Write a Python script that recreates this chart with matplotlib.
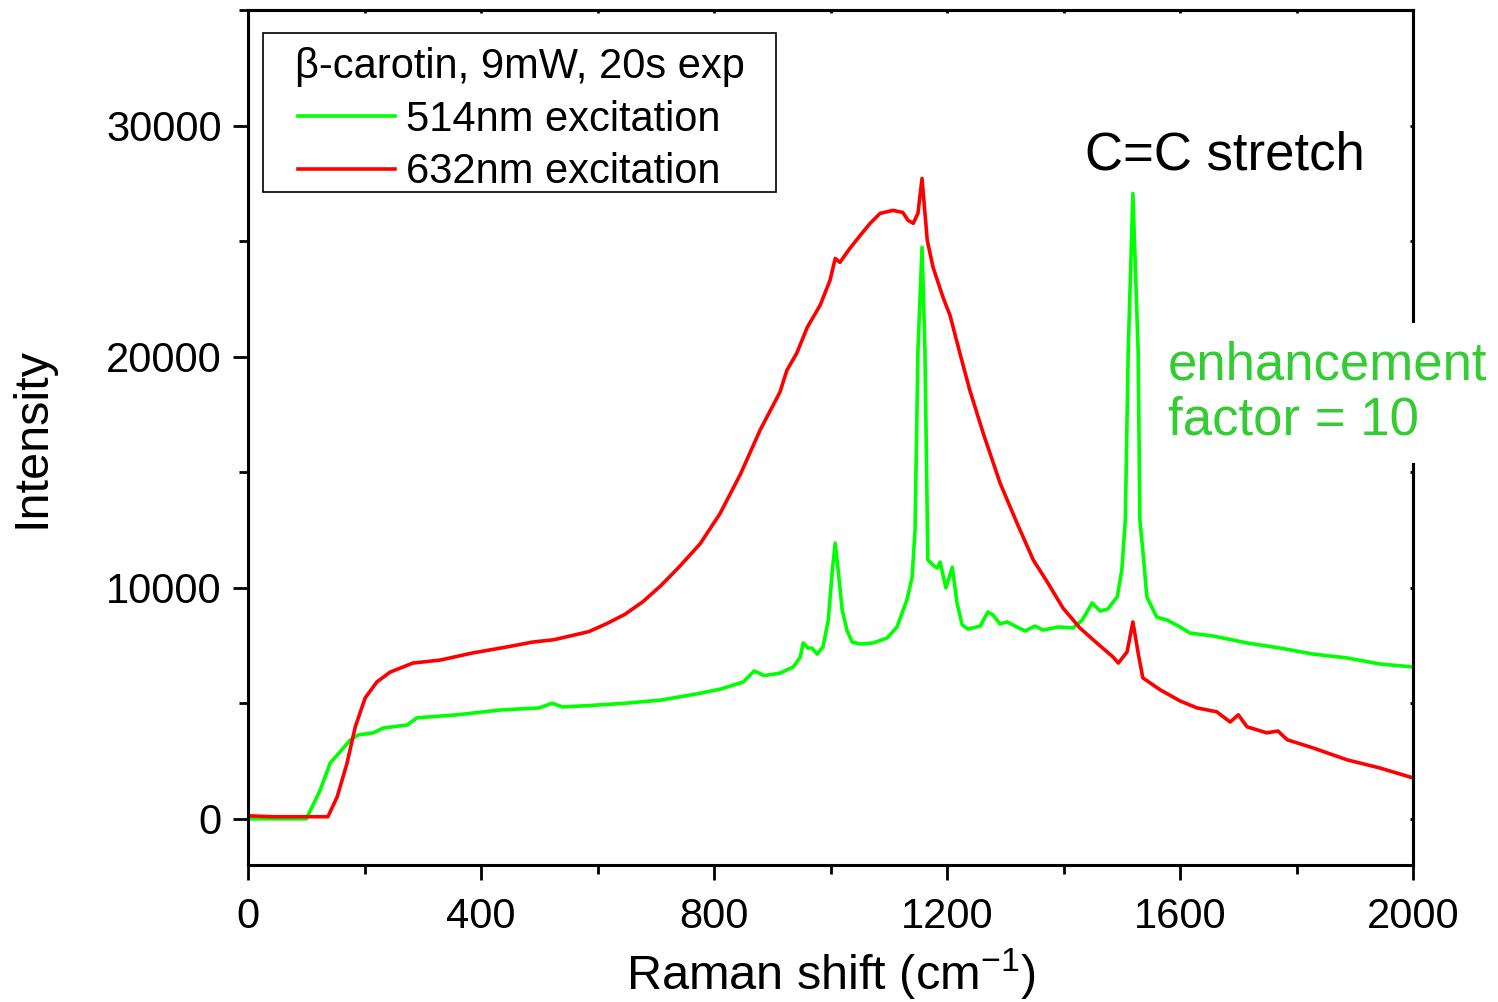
import matplotlib
matplotlib.use('Agg')
import matplotlib.pyplot as plt
from matplotlib.ticker import MultipleLocator
from matplotlib.patches import Rectangle
from matplotlib.legend_handler import HandlerLine2D

plt.rcParams['font.family'] = ['Liberation Sans', 'DejaVu Sans']
plt.rcParams['mathtext.fontset'] = 'custom'
plt.rcParams['mathtext.rm'] = 'Liberation Sans'
plt.rcParams['mathtext.it'] = 'Liberation Sans:italic'

# 514nm excitation (x10 enhancement)
shift_514 = [0, 50, 100, 124, 141, 158, 175, 189, 215, 232, 273, 290, 359, 433,
             500, 522, 540, 585, 647, 709, 769, 812, 850, 869, 886, 913, 936,
             948, 953, 961, 968, 977, 987, 996, 1003, 1008, 1013, 1020, 1028,
             1037, 1051, 1073, 1097, 1114, 1131, 1140, 1145, 1150, 1157, 1162,
             1167, 1176, 1183, 1188, 1198, 1209, 1217, 1226, 1236, 1257, 1270,
             1279, 1291, 1303, 1320, 1334, 1351, 1365, 1391, 1416, 1432, 1449,
             1463, 1476, 1492, 1500, 1506, 1511, 1519, 1528, 1531, 1536, 1543,
             1560, 1578, 1600, 1617, 1657, 1715, 1772, 1828, 1887, 1943, 2000]
int_514 = [0, 0, 0, 1250, 2420, 2900, 3400, 3630, 3720, 3930, 4060, 4370, 4500,
           4710, 4800, 5000, 4840, 4900, 5000, 5140, 5400, 5620, 5920, 6400,
           6200, 6300, 6570, 7000, 7610, 7390, 7390, 7130, 7440, 8600, 10760,
           11930, 10760, 9035, 8170, 7650, 7565, 7610, 7825, 8300, 9470, 10460,
           12490, 20270, 24730, 20270, 11200, 10980, 10850, 11110, 9990, 10890,
           9340, 8390, 8210, 8340, 8950, 8820, 8430, 8520, 8300, 8130, 8340,
           8170, 8300, 8260, 8600, 9340, 8990, 9080, 9600, 10760, 12930, 20270,
           27060, 20270, 12930, 11630, 9600, 8730, 8600, 8300, 8040, 7910,
           7610, 7390, 7130, 6960, 6700, 6570]

# 632nm excitation
shift_632 = [0, 43, 101, 137, 153, 170, 184, 201, 221, 244, 283, 330, 386, 445,
             489, 525, 585, 616, 647, 678, 709, 740, 776, 810, 845, 879, 913,
             925, 942, 960, 982, 999, 1008, 1016, 1033, 1051, 1068, 1085, 1107,
             1124, 1133, 1142, 1150, 1157, 1166, 1176, 1193, 1205, 1222, 1239,
             1262, 1291, 1320, 1348, 1372, 1399, 1428, 1457, 1485, 1494, 1509,
             1519, 1528, 1536, 1566, 1600, 1629, 1663, 1686, 1700, 1715, 1749,
             1768, 1784, 1828, 1887, 1943, 2000]
int_632 = [130, 90, 90, 90, 950, 2420, 3980, 5230, 5920, 6350, 6740, 6870, 7180,
           7440, 7650, 7750, 8100, 8450, 8850, 9400, 10100, 10900, 11900, 13200,
           14900, 16820, 18460, 19410, 20150, 21270, 22220, 23300, 24250, 24080,
           24680, 25250, 25770, 26200, 26330, 26240, 25900, 25770, 26200, 27710,
           25030, 23860, 22570, 21790, 20150, 18550, 16690, 14530, 12800, 11200,
           10250, 9120, 8260, 7610, 7000, 6740, 7220, 8520, 7180, 6100, 5580,
           5100, 4800, 4630, 4190, 4500, 3980, 3720, 3800, 3420, 3070, 2550,
           2200, 1770]

x_major = [0, 400, 800, 1200, 1600, 2000]
y_major = [0, 10000, 20000, 30000]

fig = plt.figure(figsize=(14.98, 10.02), dpi=100)
ax = fig.add_axes([0.1656, 0.1367, 0.7777, 0.8533])

ax.plot(shift_514, int_514, color='#00ff00', lw=2.6, label='514nm excitation')
ax.plot(shift_632, int_632, color='#ff0000', lw=2.6, label='632nm excitation')

ax.set_xlim(0, 2000)
ax.set_ylim(-2000, 35000)
ax.set_xticks(x_major)
ax.set_yticks(y_major)
ax.xaxis.set_minor_locator(MultipleLocator(200))
ax.yaxis.set_minor_locator(MultipleLocator(5000))
ax.tick_params(which='major', direction='out', length=11, width=2, labelsize=30, pad=8)
ax.tick_params(axis='x', which='major', pad=12)
ax.tick_params(which='minor', direction='out', length=6.5, width=2)
for sp in ax.spines.values():
    sp.set_linewidth(2.2)

# tiny inward ticks on top and right
top = ax.secondary_xaxis('top')
top.set_xticks(x_major)
top.xaxis.set_minor_locator(MultipleLocator(200))
top.tick_params(which='both', direction='in', length=2, width=2, labeltop=False)
top.spines['top'].set_linewidth(2.2)
right = ax.secondary_yaxis('right')
right.set_yticks(y_major)
right.yaxis.set_minor_locator(MultipleLocator(5000))
right.tick_params(which='both', direction='in', length=2, width=2, labelright=False)
right.spines['right'].set_linewidth(2.2)

ax.set_xlabel('Raman shift (cm$^{-1}$)', fontsize=35)
ax.set_ylabel('Intensity', fontsize=35)
ax.xaxis.set_label_coords(0.5, -0.096)
ax.yaxis.set_label_coords(-0.166, 0.5)

# legend frame drawn separately
ax.add_patch(Rectangle((0.0129, 0.7871), 0.4403, 0.186, transform=ax.transAxes,
                       facecolor='white', edgecolor='black', lw=1.2, zorder=4))
leg = ax.legend(title='\u03b2-carotin, 9mW, 20s exp', fontsize=30, title_fontsize=30,
                loc='upper left', bbox_to_anchor=(0.0129, 0.5, 0.4403, 0.4673),
                mode='expand', borderaxespad=0, frameon=False,
                handlelength=2.95, handletextpad=0.25, labelspacing=0.3,
                borderpad=0.22,
                handler_map={matplotlib.lines.Line2D: HandlerLine2D(xpad=0.62)})
leg.set_zorder(5)

ax.text(1677, 28700, 'C=C stretch', fontsize=38, ha='center', va='center')
fig.text(1168 / 1498, 1 - 393 / 1002, 'enhancement\nfactor = 10', fontsize=38,
         color='#33cc33', ha='left', va='center', linespacing=1.15,
         bbox=dict(facecolor='white', edgecolor='none', pad=12), zorder=10)

fig.savefig('out.png', dpi=100)
